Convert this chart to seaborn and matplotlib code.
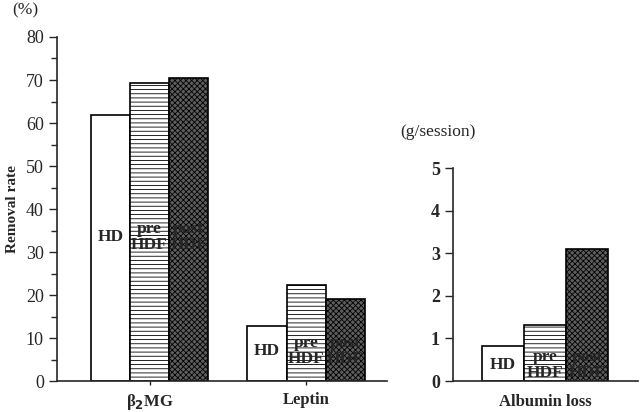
import numpy as np
import pandas as pd
import matplotlib
matplotlib.use('Agg')
import matplotlib.pyplot as plt
import seaborn as sns

groups = ['HD', 'pre HDF', 'post HDF']
inner_labels = ['HD', 'pre\nHDF', 'post\nHDF']
removal_cats = ['β2MG', 'Leptin']
removal_vals = {
    'HD': [61.8, 12.8],
    'pre HDF': [69.3, 22.3],
    'post HDF': [70.5, 19.1],
}
albumin_cat = ['Albumin loss']
albumin_vals = [0.83, 1.31, 3.1]

sns.set_style('ticks')
plt.rcParams['font.family'] = ['Liberation Serif', 'DejaVu Serif']
plt.rcParams['hatch.linewidth'] = 0.6

rows = []
for g in groups:
    for c, v in zip(removal_cats, removal_vals[g]):
        rows.append({'cat': c, 'group': g, 'val': v})
df_rem = pd.DataFrame(rows)
df_alb = pd.DataFrame({'cat': albumin_cat * 3, 'group': groups, 'val': albumin_vals})

faces = ['white', 'white', '#5e5e5e']
hatches = [None, '----', 'xxxxxx']
pal = dict(zip(groups, faces))

fig = plt.figure(figsize=(6.4, 4.12), dpi=100)
ax1 = fig.add_axes([0.089, 0.0752, 0.516, 0.835])
ax2 = fig.add_axes([0.708, 0.0752, 0.289, 0.517])


def draw(ax, df, label_y):
    sns.barplot(data=df, x='cat', y='val', hue='group', hue_order=groups,
                palette=pal, width=0.75, edgecolor='black', linewidth=1.2,
                legend=False, ax=ax, errorbar=None)
    for i, cont in enumerate(ax.containers):
        for j, bar in enumerate(cont):
            if hatches[i]:
                bar.set_hatch(hatches[i])
            cx = bar.get_x() + bar.get_width() / 2
            ax.text(cx, label_y[j], inner_labels[i], ha='center', va='center',
                    fontsize=12.5, fontweight='bold', linespacing=1.0)
    ax.set_xlabel('')
    ax.set_ylabel('')
    sns.despine(ax=ax)
    for s in ['left', 'bottom']:
        ax.spines[s].set_linewidth(1.2)


draw(ax1, df_rem, [33.5, 7.0])
ax1.set_xlim(-0.591, 1.518)
ax1.set_ylim(0, 80)
ax1.set_yticks(range(0, 81, 10))
ax1.set_yticks(range(5, 80, 10), minor=True)
ax1.tick_params(axis='y', which='major', labelsize=13, length=6, width=1)
ax1.tick_params(axis='y', which='minor', length=4, width=1)
ax1.tick_params(axis='x', length=3, width=1, pad=5)
ax1.set_xticks([0, 1])
ax1.set_xticklabels(['β$_{\\mathbf{2}}$MG', 'Leptin'], fontsize=12, fontweight='bold')
ax1.set_ylabel('Removal rate', fontsize=11, fontweight='bold', labelpad=5)

draw(ax2, df_alb, [0.38])
ax2.set_xlim(-0.548, 0.554)
ax2.set_ylim(0, 5)
ax2.set_yticks(range(0, 6))
ax2.set_yticklabels([str(i) for i in range(0, 6)], fontweight='bold')
ax2.tick_params(axis='y', labelsize=13, length=6, width=1)
ax2.tick_params(axis='x', length=0, pad=9)
ax2.set_xticks([0])
ax2.set_xticklabels(albumin_cat, fontsize=12, fontweight='bold')

fig.text(0.019, 0.965, '(%)', fontsize=12.5)
fig.text(0.625, 0.67, '(g/session)', fontsize=12.5)

fig.savefig('out.png', dpi=100)
